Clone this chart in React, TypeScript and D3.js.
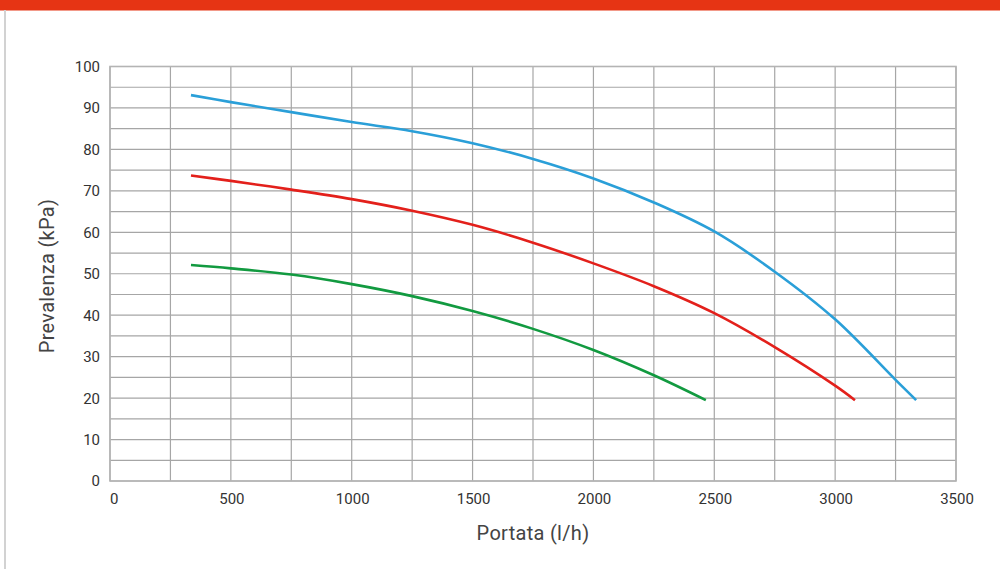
import React from 'react';
import * as d3 from 'd3';

/* ─── Data ─── */
const X_TICKS = [0, 500, 1000, 1500, 2000, 2500, 3000, 3500];
const Y_TICKS = [0, 10, 20, 30, 40, 50, 60, 70, 80, 90, 100];
const X_GRID = d3.range(0, 3501, 250);
const Y_GRID = d3.range(0, 101, 5);

const BLUE_FLOW = [335, 500, 750, 1000, 1250, 1500, 1750, 2000, 2250, 2500, 2750, 3000, 3250, 3335];
const BLUE_HEAD = [93.1, 91.4, 89.0, 86.6, 84.4, 81.5, 77.7, 73.0, 67.2, 60.2, 50.5, 39.0, 24.4, 19.5];

const RED_FLOW = [335, 500, 750, 1000, 1250, 1500, 1750, 2000, 2250, 2500, 2750, 3000, 3082];
const RED_HEAD = [73.7, 72.4, 70.3, 68.0, 65.2, 61.8, 57.5, 52.5, 47.0, 40.5, 32.3, 23.0, 19.5];

const GREEN_FLOW = [335, 500, 750, 1000, 1250, 1500, 1750, 2000, 2250, 2465];
const GREEN_HEAD = [52.1, 51.3, 49.8, 47.5, 44.6, 41.0, 36.7, 31.6, 25.5, 19.5];

const SERIES = [
    { name: 'blue', color: '#2a9fd8', flow: BLUE_FLOW, head: BLUE_HEAD },
    { name: 'red', color: '#e3201b', flow: RED_FLOW, head: RED_HEAD },
    { name: 'green', color: '#129a40', flow: GREEN_FLOW, head: GREEN_HEAD },
];

const W = 1000;
const H = 569;
const FONT = 'Roboto, "Open Sans", sans-serif';

export default function App() {
    const x = d3.scaleLinear().domain([0, 3500]).range([110, 956]);
    const y = d3.scaleLinear().domain([0, 100]).range([481, 66.5]);

    const line = d3.line<[number, number]>()
        .x(d => x(d[0]))
        .y(d => y(d[1]))
        .curve(d3.curveCatmullRom.alpha(0.5));

    return (
        <svg width={W} height={H} style={{ position: 'absolute', left: 0, top: 0, background: '#fff' }}>
            {/* top band + left rule */}
            <rect x={0} y={0} width={W} height={10.5} fill="#e63414" />
            <line x1={5} x2={5} y1={10} y2={H} stroke="#d2d2d2" strokeWidth={2} />

            {/* grid */}
            <g stroke="#a6a6a6" strokeWidth={1.2}>
                {X_GRID.map(v => (
                    <line key={'vx' + v} x1={x(v)} x2={x(v)} y1={y(100)} y2={y(0)} />
                ))}
                {Y_GRID.map(v => (
                    <line key={'hy' + v} x1={x(0)} x2={x(3500)} y1={y(v)} y2={y(v)} />
                ))}
            </g>
            <rect x={x(0)} y={y(100)} width={x(3500) - x(0)} height={y(0) - y(100)}
                fill="none" stroke="#b4b4b4" strokeWidth={1.6} />

            {/* curves */}
            {SERIES.map(s => (
                <path key={s.name}
                    d={line(s.flow.map((f, i) => [f, s.head[i]] as [number, number])) || ''}
                    fill="none" stroke={s.color} strokeWidth={2.6} strokeLinecap="butt" />
            ))}

            {/* tick labels */}
            <g fontFamily={FONT} fontSize={15} fill="#333">
                {Y_TICKS.map(v => (
                    <text key={'yt' + v} x={100} y={y(v)} dy="0.36em" textAnchor="end">{v}</text>
                ))}
                {X_TICKS.map(v => (
                    <text key={'xt' + v} x={v === 0 ? x(v) : x(v) + 1} y={504}
                        textAnchor={v === 0 ? 'start' : 'middle'}>{v}</text>
                ))}
            </g>

            {/* axis titles */}
            <text x={533} y={540} textAnchor="middle" fontFamily={FONT} fontSize={20}
                fill="#444" letterSpacing={0.3}>Portata (l/h)</text>
            <text transform="translate(54,276) rotate(-90)" textAnchor="middle" fontFamily={FONT}
                fontSize={20} fill="#444" letterSpacing={0.3}>Prevalenza (kPa)</text>
        </svg>
    );
}
